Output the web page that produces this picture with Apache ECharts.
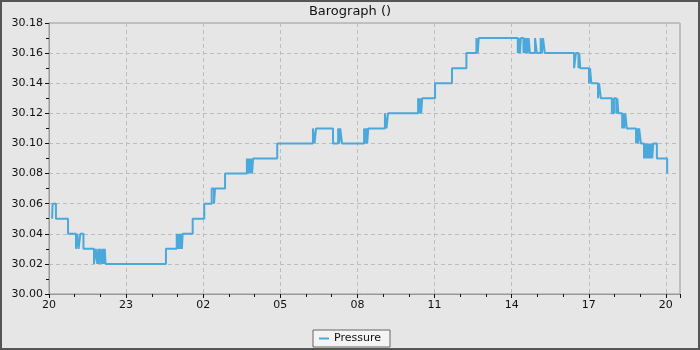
<!DOCTYPE html>
<html>
<head>
<meta charset="utf-8">
<script src="https://cdn.jsdelivr.net/npm/echarts@6/dist/echarts.min.js"></script>
<style>html,body{margin:0;padding:0;background:#e6e6e6}#c{width:700px;height:350px}</style>
</head>
<body>
<div id="c"></div>
<script>
// hours after 20:00
var times = [
  0.12, 0.14, 0.27, 0.74,
  1.05, 1.10, 1.15, 1.22, 1.34,
  1.75, 1.82, 1.88, 1.92, 1.96, 2.00, 2.05, 2.09, 2.13, 2.17, 2.20,
  4.55, 4.97, 5.01, 5.05, 5.09, 5.13, 5.17, 5.20,
  5.59, 6.04, 6.33, 6.42, 6.46, 6.85,
  7.70, 7.74, 7.78, 7.82, 7.86, 7.90, 7.94,
  8.88,
  10.27, 10.33, 10.39, 11.05,
  11.25, 11.29, 11.33, 11.40,
  12.26, 12.30, 12.34, 12.38, 12.42,
  13.07, 13.13, 13.19,
  14.36, 14.40, 14.44, 14.48, 14.52,
  15.02, 15.68, 16.24, 16.63, 16.68, 16.72,
  18.24, 18.28, 18.32, 18.36, 18.46, 18.50, 18.54, 18.58, 18.62, 18.66, 18.71,
  18.91, 18.98, 19.13, 19.18, 19.22, 19.29,
  20.43, 20.50, 20.60, 20.63, 20.67,
  21.01, 21.05, 21.10,
  21.36, 21.40, 21.47,
  21.90, 21.98, 22.07, 22.11, 22.15,
  22.30, 22.34, 22.38, 22.42, 22.48,
  22.84, 22.88, 22.92, 22.96, 23.03,
  23.15, 23.19, 23.23, 23.27, 23.31, 23.35, 23.39, 23.43, 23.47, 23.51,
  23.65, 24.05
];
var pressure = [
  30.05, 30.06, 30.05, 30.04,
  30.03, 30.04, 30.03, 30.04, 30.03,
  30.02, 30.03, 30.02, 30.03, 30.02, 30.03, 30.02, 30.03, 30.02, 30.03, 30.02,
  30.03, 30.04, 30.03, 30.04, 30.03, 30.04, 30.03, 30.04,
  30.05, 30.06, 30.07, 30.06, 30.07, 30.08,
  30.09, 30.08, 30.09, 30.08, 30.09, 30.08, 30.09,
  30.10,
  30.11, 30.10, 30.11, 30.10,
  30.11, 30.10, 30.11, 30.10,
  30.11, 30.10, 30.11, 30.10, 30.11,
  30.12, 30.11, 30.12,
  30.13, 30.12, 30.13, 30.12, 30.13,
  30.14, 30.15, 30.16, 30.17, 30.16, 30.17,
  30.16, 30.17, 30.16, 30.17, 30.16, 30.17, 30.16, 30.17, 30.16, 30.17, 30.16,
  30.17, 30.16, 30.17, 30.16, 30.17, 30.16,
  30.15, 30.16, 30.15, 30.16, 30.15,
  30.14, 30.15, 30.14,
  30.13, 30.14, 30.13,
  30.12, 30.13, 30.12, 30.13, 30.12,
  30.11, 30.12, 30.11, 30.12, 30.11,
  30.10, 30.11, 30.10, 30.11, 30.10,
  30.09, 30.10, 30.09, 30.10, 30.09, 30.10, 30.09, 30.10, 30.09, 30.10,
  30.09, 30.08
];
var hourLabels = ['20','23','02','05','08','11','14','17','20'];
var seriesName = 'Pressure';
var titleText = 'Barograph ()';

var data = times.map(function(t,i){return [t, pressure[i]];});
var chart = echarts.init(document.getElementById('c'));
var font = 'DejaVu Sans';
chart.setOption({
  backgroundColor: '#e6e6e6',
  animation: false,
  title: {text: titleText, left: 'center', top: 0,
    textStyle: {fontFamily: font, fontSize: 13, fontWeight: 'normal', color: '#111'}},
  legend: {data: [seriesName], bottom: 3, left: 'center',
    backgroundColor: '#f4f4f4', borderColor: '#666', borderWidth: 1,
    padding: [3, 9, 3, 6], itemWidth: 10, itemHeight: 2, icon: 'rect', itemGap: 5,
    textStyle: {fontFamily: font, fontSize: 11, color: '#111'}},
  grid: {left: 49, right: 20, top: 23, bottom: 56, show: true,
    borderColor: '#999', borderWidth: 1, backgroundColor: '#e6e6e6'},
  xAxis: {type: 'value', min: 0, max: 24.55, interval: 3,
    axisLine: {lineStyle: {color: '#999'}},
    axisTick: {length: 4, lineStyle: {color: '#111'}},
    minorTick: {show: true, splitNumber: 3, length: 3, lineStyle: {color: '#111'}},
    splitLine: {show: true, lineStyle: {color: '#bdbdbd', type: [4, 3]}},
    axisLabel: {showMaxLabel: false, fontFamily: font, fontSize: 11, color: '#111', margin: 6,
      formatter: function(v){ var k = Math.round(v/3); return (Math.abs(v-3*k) < 1e-6 && k < hourLabels.length) ? hourLabels[k] : ''; }}
  },
  yAxis: {type: 'value', min: 30.00, max: 30.18, interval: 0.02,
    axisLine: {show: true, lineStyle: {color: '#999'}},
    axisTick: {show: true, length: 4, lineStyle: {color: '#111'}},
    minorTick: {show: true, splitNumber: 2, length: 3, lineStyle: {color: '#111'}},
    splitLine: {show: true, lineStyle: {color: '#bdbdbd', type: [4, 3]}},
    axisLabel: {fontFamily: font, fontSize: 11, color: '#111', margin: 6,
      formatter: function(v){ return v.toFixed(2); }}
  },
  graphic: [{type: 'rect', shape: {x: 1, y: 1, width: 698, height: 348},
    style: {fill: 'none', stroke: '#555', lineWidth: 2}, silent: true, z: 100}],
  series: [{name: seriesName, type: 'line', step: 'end', data: data, showSymbol: false,
    symbol: 'none', lineStyle: {width: 2, color: '#4aa8da'}, itemStyle: {color: '#4aa8da'}}]
});
</script>
</body>
</html>
